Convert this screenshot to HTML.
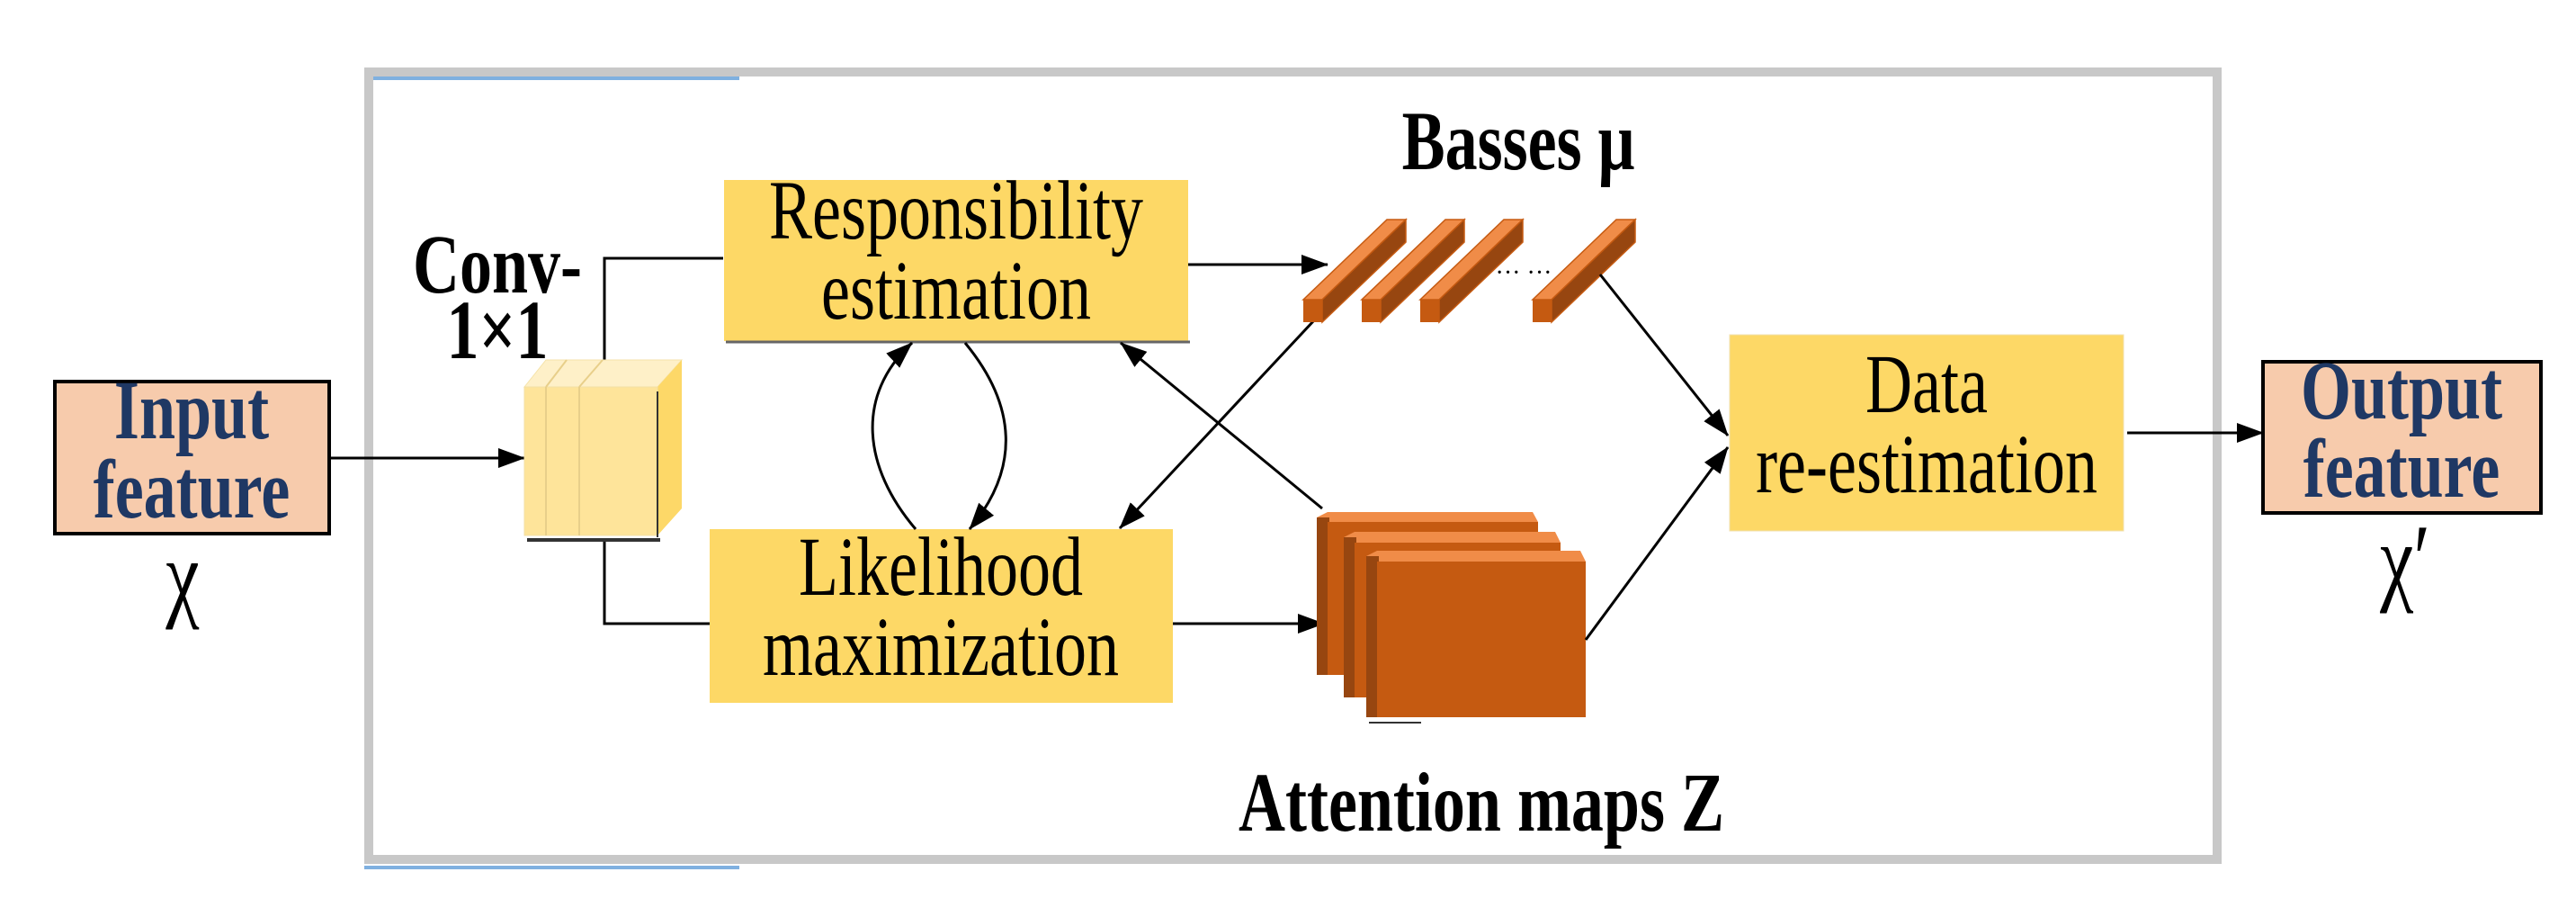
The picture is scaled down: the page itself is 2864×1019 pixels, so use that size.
<!DOCTYPE html>
<html><head><meta charset="utf-8"><style>
html,body{margin:0;padding:0;background:#fff;}
svg{display:block;}
text{font-family:"Liberation Serif",serif;}
</style></head><body>
<svg width="2864" height="1019" viewBox="0 0 2864 1019" xmlns="http://www.w3.org/2000/svg">
<defs>
<marker id="a" viewBox="0 0 30 22" refX="29" refY="11" markerWidth="30" markerHeight="22" orient="auto" markerUnits="userSpaceOnUse"><path d="M0,0 L30,11 L0,22 z" fill="#000"/></marker>
</defs>
<rect x="410" y="80" width="2055" height="875" fill="none" stroke="#c8c8c8" stroke-width="10"/>
<line x1="415" y1="87" x2="822" y2="87" stroke="#7fb0e0" stroke-width="4"/>
<line x1="405" y1="964" x2="822" y2="964" stroke="#7fb0e0" stroke-width="4"/>

<rect x="61" y="424" width="305" height="169" fill="#f7cbac" stroke="#000" stroke-width="4"/>
<g transform="translate(213,487) scale(1,1.3)"><text font-size="72" font-weight="bold" fill="#1f3864" text-anchor="middle">Input</text></g>
<g transform="translate(213,575) scale(1,1.3)"><text font-size="72" font-weight="bold" fill="#1f3864" text-anchor="middle">feature</text></g>
<g transform="translate(203,676) scale(1,1.3)"><text font-size="84" text-anchor="middle">χ</text></g>

<line x1="366" y1="509" x2="583" y2="509" stroke="#000" stroke-width="3" marker-end="url(#a)"/>

<g transform="translate(553,325) scale(1,1.3)"><text font-size="72" font-weight="bold" text-anchor="middle">Conv-</text></g>
<g transform="translate(553,398) scale(1,1.3)"><text font-size="72" font-weight="bold" text-anchor="middle">1×1</text></g>

<polyline points="672,400 672,287 804,287" fill="none" stroke="#000" stroke-width="3"/>
<polyline points="672,600 672,693 789,693" fill="none" stroke="#000" stroke-width="3"/>

<rect x="586" y="598" width="148" height="4" fill="#333"/>
<polygon points="583,430 607,400 758,400 731,430" fill="#fef0c8" stroke="#f5e2a8" stroke-width="1"/>
<polygon points="731,430 758,400 758,565 731,595" fill="#fdd868"/>
<rect x="583" y="430" width="148" height="165" fill="#fee49a" stroke="#f3dfa5" stroke-width="1"/>
<line x1="607" y1="430" x2="607" y2="595" stroke="#e8cf8a" stroke-width="2"/>
<line x1="644" y1="430" x2="644" y2="595" stroke="#e8cf8a" stroke-width="2"/>
<line x1="607" y1="430" x2="630" y2="400" stroke="#e8cf8a" stroke-width="2"/>
<line x1="644" y1="430" x2="670" y2="400" stroke="#e8cf8a" stroke-width="2"/>
<line x1="731" y1="435" x2="731" y2="597" stroke="#333" stroke-width="2"/>

<rect x="805" y="200" width="516" height="179" fill="#fdd866"/>
<line x1="807" y1="380" x2="1323" y2="380" stroke="#666" stroke-width="3"/>
<g transform="translate(1063,265) scale(1,1.3)"><text font-size="72" text-anchor="middle">Responsibility</text></g>
<g transform="translate(1063,354) scale(1,1.3)"><text font-size="72" text-anchor="middle">estimation</text></g>

<rect x="789" y="588" width="515" height="193" fill="#fdd866"/>
<g transform="translate(1046,661) scale(1,1.3)"><text font-size="72" text-anchor="middle">Likelihood</text></g>
<g transform="translate(1046,750) scale(1,1.3)"><text font-size="72" text-anchor="middle">maximization</text></g>

<path d="M1018,588 C960,520 950,440 1014,381" fill="none" stroke="#000" stroke-width="3" marker-end="url(#a)"/>
<path d="M1073,381 C1130,450 1135,520 1078,588" fill="none" stroke="#000" stroke-width="3" marker-end="url(#a)"/>

<line x1="1321" y1="294" x2="1476" y2="294" stroke="#000" stroke-width="3" marker-end="url(#a)"/>
<line x1="1304" y1="693" x2="1472" y2="693" stroke="#000" stroke-width="3" marker-end="url(#a)"/>

<line x1="1461" y1="356" x2="1245" y2="587" stroke="#000" stroke-width="3" marker-end="url(#a)"/>
<line x1="1470" y1="565" x2="1246" y2="381" stroke="#000" stroke-width="3" marker-end="url(#a)"/>

<g transform="translate(1688,188) scale(1,1.3)"><text font-size="72" font-weight="bold" text-anchor="middle">Basses μ</text></g>
<g id="bar">
<polygon points="1449,333 1470,333 1563,244 1542,244" fill="#f08c48" stroke="#c55a11" stroke-width="1.5"/>
<polygon points="1470,333 1563,244 1563,269 1470,358" fill="#974610" stroke="#c55a11" stroke-width="1.5"/>
<rect x="1449" y="333" width="21" height="25" fill="#c55a11"/>
</g>
<use href="#bar" x="65"/>
<use href="#bar" x="130"/>
<use href="#bar" x="255"/>
<text x="1694" y="312" font-size="28" text-anchor="middle">··· ···</text>

<line x1="1779" y1="305" x2="1921" y2="484" stroke="#000" stroke-width="3" marker-end="url(#a)"/>

<g>
<polygon points="1464,575 1476,569 1704,569 1710,580 1476,580" fill="#f08c48"/>
<rect x="1464" y="575" width="14" height="175" fill="#974610"/>
<rect x="1476" y="580" width="234" height="170" fill="#c55a11"/>
</g>
<g>
<polygon points="1494,597 1506,591 1729,591 1735,603 1506,603" fill="#f08c48"/>
<rect x="1494" y="597" width="14" height="178" fill="#974610"/>
<rect x="1506" y="603" width="229" height="172" fill="#c55a11"/>
</g>
<g>
<polygon points="1519,618 1531,612 1757,612 1763,624 1531,624" fill="#f08c48"/>
<rect x="1519" y="618" width="14" height="179" fill="#974610"/>
<rect x="1531" y="624" width="232" height="173" fill="#c55a11"/>
</g>
<line x1="1522" y1="803" x2="1580" y2="803" stroke="#333" stroke-width="2"/>

<line x1="1763" y1="711" x2="1921" y2="497" stroke="#000" stroke-width="3" marker-end="url(#a)"/>

<g transform="translate(1647,923) scale(1,1.3)"><text font-size="72" font-weight="bold" text-anchor="middle">Attention maps Z</text></g>

<rect x="1923" y="372" width="438" height="218" fill="#fdd866" stroke="#f0e0b0" stroke-width="1"/>
<g transform="translate(2142,458) scale(1,1.3)"><text font-size="72" text-anchor="middle">Data</text></g>
<g transform="translate(2142,547) scale(1,1.3)"><text font-size="72" text-anchor="middle">re-estimation</text></g>

<line x1="2365" y1="481" x2="2516" y2="481" stroke="#000" stroke-width="3" marker-end="url(#a)"/>

<rect x="2516" y="402" width="309" height="168" fill="#f7cbac" stroke="#000" stroke-width="4"/>
<g transform="translate(2670,465) scale(1,1.3)"><text font-size="72" font-weight="bold" fill="#1f3864" text-anchor="middle">Output</text></g>
<g transform="translate(2670,552) scale(1,1.3)"><text font-size="72" font-weight="bold" fill="#1f3864" text-anchor="middle">feature</text></g>
<g transform="translate(2674,658) scale(1,1.3)"><text font-size="84" text-anchor="middle">χ′</text></g>
</svg>
</body></html>
